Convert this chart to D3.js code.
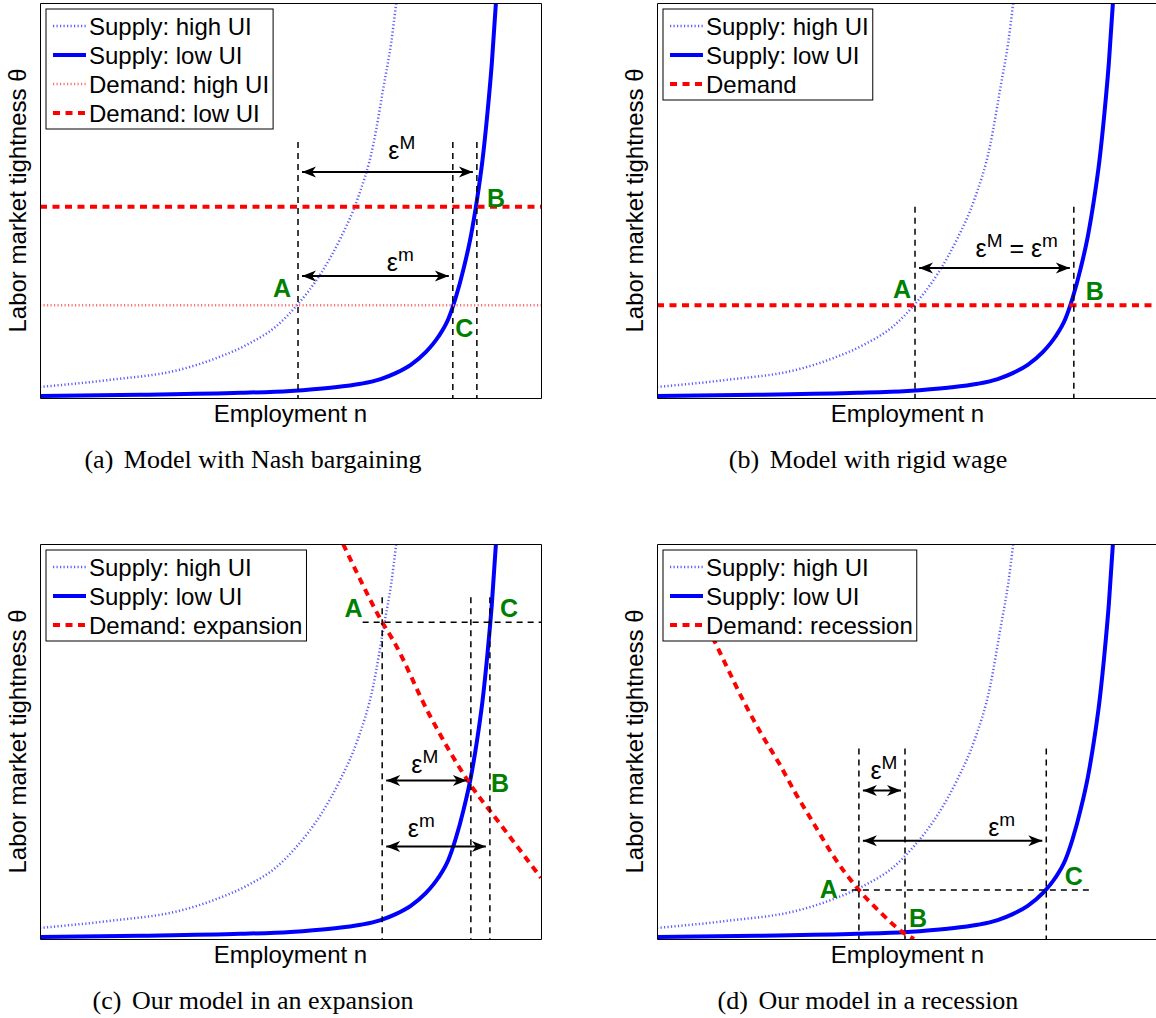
<!DOCTYPE html>
<html>
<head>
<meta charset="utf-8">
<script src="https://cdn.jsdelivr.net/npm/d3@7"></script>
<style>
  body { margin: 0; background: #fff; }
  svg { display: block; }
</style>
</head>
<body>
<div id="fig"></div>
<script>
// values, n and theta both on a 0-100 scale

// supply curves (same in all four panels)
var supplyHighN     = [0, 14, 27.7, 35, 41.9, 47, 51.3, 56.1, 60, 63.3, 66.5, 68.6, 70.1, 71.1];
var supplyHighTheta = [2.8, 4.6, 7.1, 10, 13.9, 18, 23.5, 31.6, 40.5, 50.1, 64, 79, 90, 100];
var supplyLowN      = [0, 20, 40, 50, 58, 64, 68, 71, 74, 77, 79.5, 81.5, 83, 84.6, 86, 87.2, 88.3, 89.3, 90.2, 91];
var supplyLowTheta  = [0.5, 0.8, 1.3, 1.8, 2.6, 3.6, 4.8, 6.3, 8.4, 11.6, 15.5, 20, 25.5, 33, 41, 50, 60, 72, 85, 100];

// flat demand levels, panels (a) and (b)
var demandHighUI = 23.5;
var demandLowUI = 48.4;

// sloped demand, panels (c) and (d)
var demandExpN      = [60.5, 63.3, 68.3, 70.5, 77.6, 85.8, 91.8, 100];
var demandExpTheta  = [100, 92.6, 80.2, 75.6, 57.1, 39.3, 29.2, 15.5];
var demandRecN      = [8, 11.4, 13.6, 17.2, 20.8, 24.4, 27.7, 31.3, 34.9, 40.3, 44.3, 49.5, 51.3];
var demandRecTheta  = [85, 75.6, 69.8, 60.4, 52, 44.4, 36.8, 29.2, 21.6, 12.4, 7.1, 1.3, 0];

// legends and captions
var legendA = ["Supply: high UI", "Supply: low UI", "Demand: high UI", "Demand: low UI"];
var legendB = ["Supply: high UI", "Supply: low UI", "Demand"];
var legendC = ["Supply: high UI", "Supply: low UI", "Demand: expansion"];
var legendD = ["Supply: high UI", "Supply: low UI", "Demand: recession"];
var captions = [
  ["(a)", "Model with Nash bargaining"],
  ["(b)", "Model with rigid wage"],
  ["(c)", "Our model in an expansion"],
  ["(d)", "Our model in a recession"]
];

// dashed guides: vertical lines (n) and the top they reach (theta)
var guidesA = [51.5, 82.4, 87.2], guidesB = [51.5, 83.2], guidesC = [68.3, 86, 89.8], guidesD = [40.3, 49.5, 77.7];
var guideTop = [64.8, 48.4, 86.5, 48.2];
// horizontal guides: [theta, n from, n to]
var hGuideC = [80.2, 64.4, 100];
var hGuideD = [12.4, 36.7, 87];

// double arrows: [theta, n from, n to]
var arrowsA = [[57.2, 51.5, 87.2], [30.9, 51.5, 82.4]];
var arrowsB = [[32.9, 51.5, 83.2]];
var arrowsC = [[40.1, 68.3, 86], [23.4, 68.3, 89.8]];
var arrowsD = [[37.6, 40.3, 49.5], [24.9, 40.3, 77.7]];

// epsilon labels: [superscripts, n, theta]
var epsA = [[["M"], 72.2, 60.5], [["m"], 71.9, 32.2]];
var epsB = [[["M", "m"], 71.8, 35.7]];
var epsC = [[["M"], 76.8, 41.9], [["m"], 76.1, 25.9]];
var epsD = [[["M"], 45.3, 40.4], [["m"], 68.8, 26.1]];

// point labels: [letter, n, theta]
var pointsA = [["A", 48.3, 25.6], ["B", 91, 48.4], ["C", 84.7, 15.4]];
var pointsB = [["A", 48.9, 25.3], ["B", 87.4, 24.8]];
var pointsC = [["A", 62.6, 81.5], ["B", 91.8, 37.1], ["C", 93.6, 81.5]];
var pointsD = [["A", 34.3, 10.4], ["B", 52.1, 3], ["C", 83.2, 13.7]];

var sans = "'Liberation Sans', Arial, Helvetica, sans-serif";
var serif = "'Liberation Serif', 'Times New Roman', serif";

var plotW = 501, plotH = 395;

var svg = d3.select("#fig").append("svg")
    .attr("width", 1156)
    .attr("height", 1018);

var defs = svg.append("defs");
defs.append("marker")
    .attr("id", "head")
    .attr("viewBox", "-15 -7 17 14")
    .attr("refX", 0).attr("refY", 0)
    .attr("markerWidth", 17).attr("markerHeight", 14)
    .attr("markerUnits", "userSpaceOnUse")
    .attr("orient", "auto-start-reverse")
    .append("path")
    .attr("d", "M0,0L-14,-5.5L-10,0L-14,5.5Z")
    .attr("fill", "#000");

var x = d3.scaleLinear().domain([0, 100]).range([0, plotW]);
var y = d3.scaleLinear().domain([0, 100]).range([plotH, 0]);

var line = d3.line()
    .x(d => x(d[0]))
    .y(d => y(d[1]))
    .curve(d3.curveMonotoneX);

var zipUp = (a, b) => a.map((v, i) => [v, b[i]]);

var styles = {
  supplyHigh: { stroke: "#5c5cff", width: 2.5, dash: "1.2 2.3" },
  supplyLow:  { stroke: "#0000ff", width: 4, dash: null },
  demandHigh: { stroke: "#ff7070", width: 2.5, dash: "1.2 2.3" },
  demandLow:  { stroke: "#ff0000", width: 4, dash: "7 5.5" }
};

var panels = [
  { left: 40, top: 3, legend: legendA,
    demands: [["demandHigh", [[0, demandHighUI], [100, demandHighUI]]], ["demandLow", [[0, demandLowUI], [100, demandLowUI]]]],
    guides: guidesA, hGuide: null, arrows: arrowsA, eps: epsA, points: pointsA },
  { left: 657, top: 3, legend: legendB,
    demands: [["demandLow", [[0, demandHighUI], [100, demandHighUI]]]],
    guides: guidesB, hGuide: null, arrows: arrowsB, eps: epsB, points: pointsB },
  { left: 40, top: 544, legend: legendC,
    demands: [["demandLow", zipUp(demandExpN, demandExpTheta)]],
    guides: guidesC, hGuide: hGuideC, arrows: arrowsC, eps: epsC, points: pointsC },
  { left: 657, top: 544, legend: legendD,
    demands: [["demandLow", zipUp(demandRecN, demandRecTheta)]],
    guides: guidesD, hGuide: hGuideD, arrows: arrowsD, eps: epsD, points: pointsD }
];

var legendStyles = ["supplyHigh", "supplyLow", "demandHigh", "demandLow"];

panels.forEach(function(p, i) {
  var g = svg.append("g").attr("transform", `translate(${p.left}, ${p.top})`);

  defs.append("clipPath").attr("id", "clip" + i)
    .append("rect").attr("width", plotW).attr("height", plotH);

  var plot = g.append("g").attr("clip-path", `url(#clip${i})`);

  function drawCurve(pts, st) {
    var s = styles[st];
    plot.append("path")
      .attr("d", line(pts))
      .attr("fill", "none")
      .attr("stroke", s.stroke)
      .attr("stroke-width", s.width)
      .attr("stroke-dasharray", s.dash);
  }

  drawCurve(zipUp(supplyHighN, supplyHighTheta), "supplyHigh");
  drawCurve(zipUp(supplyLowN, supplyLowTheta), "supplyLow");
  p.demands.forEach(d => drawCurve(d[1], d[0]));

  // dashed guides
  plot.selectAll(".vguide").data(p.guides).enter()
    .append("line")
    .attr("x1", d => x(d)).attr("x2", d => x(d))
    .attr("y1", y(guideTop[i])).attr("y2", y(0))
    .attr("stroke", "#000").attr("stroke-width", 1.5)
    .attr("stroke-dasharray", "6 5");

  if (p.hGuide) {
    plot.append("line")
      .attr("x1", x(p.hGuide[1])).attr("x2", x(p.hGuide[2]))
      .attr("y1", y(p.hGuide[0])).attr("y2", y(p.hGuide[0]))
      .attr("stroke", "#000").attr("stroke-width", 1.5)
      .attr("stroke-dasharray", "6 5");
  }

  // arrows
  g.selectAll(".arrow").data(p.arrows).enter()
    .append("line")
    .attr("x1", d => x(d[1]) + 4).attr("x2", d => x(d[2]) - 4)
    .attr("y1", d => y(d[0])).attr("y2", d => y(d[0]))
    .attr("stroke", "#000").attr("stroke-width", 2)
    .attr("marker-start", "url(#head)")
    .attr("marker-end", "url(#head)");

  // epsilon labels
  p.eps.forEach(function(e) {
    var t = g.append("text")
      .attr("x", x(e[1])).attr("y", y(e[2]))
      .attr("text-anchor", "middle")
      .attr("font-family", sans).attr("font-size", 25);
    e[0].forEach(function(sup, k) {
      t.append("tspan").attr("dy", k === 0 ? 0 : 10).text(k === 0 ? "\u03b5" : " = \u03b5");
      t.append("tspan").attr("font-size", 19).attr("dy", -10).text(sup);
    });
  });

  // point labels
  g.selectAll(".pt").data(p.points).enter()
    .append("text")
    .attr("x", d => x(d[1])).attr("y", d => y(d[2]))
    .attr("text-anchor", "middle")
    .attr("font-family", sans).attr("font-size", 25).attr("font-weight", "bold")
    .attr("fill", "#008000")
    .text(d => d[0]);

  // axes box, no ticks
  g.append("g").attr("transform", `translate(0, ${plotH})`)
    .call(d3.axisBottom(x).tickValues([]).tickSizeOuter(0));
  g.append("g").call(d3.axisTop(x).tickValues([]).tickSizeOuter(0));
  g.append("g").call(d3.axisLeft(y).tickValues([]).tickSizeOuter(0));
  g.append("g").attr("transform", `translate(${plotW}, 0)`)
    .call(d3.axisRight(y).tickValues([]).tickSizeOuter(0));

  // axis titles
  g.append("text")
    .attr("x", plotW / 2).attr("y", plotH + 24)
    .attr("text-anchor", "middle")
    .attr("font-family", sans).attr("font-size", 24)
    .text("Employment n");
  g.append("text")
    .attr("transform", `translate(-14, ${plotH / 2}) rotate(-90)`)
    .attr("text-anchor", "middle")
    .attr("font-family", sans).attr("font-size", 24)
    .text("Labor market tightness \u03b8");

  // legend
  var lg = g.append("g").attr("transform", "translate(6, 6)");
  var box = lg.append("rect")
    .attr("fill", "#fff").attr("stroke", "#000").attr("stroke-width", 1)
    .attr("height", 4 + 29 * p.legend.length);
  var maxW = 0;
  p.legend.forEach(function(lab, k) {
    var st = styles[p.legend.length === 4 ? legendStyles[k] : ["supplyHigh", "supplyLow", "demandLow"][k]];
    var cy = 17 + 29 * k;
    lg.append("line")
      .attr("x1", 7).attr("x2", 40).attr("y1", cy).attr("y2", cy)
      .attr("stroke", st.stroke).attr("stroke-width", st.width)
      .attr("stroke-dasharray", st.dash);
    var t = lg.append("text")
      .attr("x", 43).attr("y", cy + 9)
      .attr("font-family", sans).attr("font-size", 24)
      .text(lab);
    maxW = Math.max(maxW, t.node().getComputedTextLength());
  });
  box.attr("width", 43 + maxW + 4);

  // caption
  var cx = i % 2 === 0 ? 253 : 868;
  var cap = svg.append("text")
    .attr("x", cx).attr("y", p.top + plotH + 70)
    .attr("text-anchor", "middle")
    .attr("font-family", serif).attr("font-size", 26);
  cap.append("tspan").text(captions[i][0]);
  cap.append("tspan").attr("dx", 4).text(" " + captions[i][1]);
});
</script>
</body>
</html>
